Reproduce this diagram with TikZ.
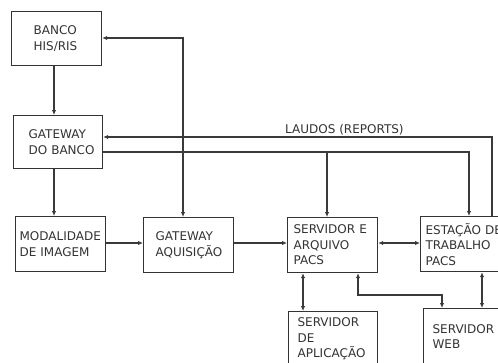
\documentclass[tikz,border=0pt]{standalone}
\usepackage{fontspec}
\setmainfont{DejaVu Sans}
\usetikzlibrary{arrows.meta}
\definecolor{ink}{HTML}{333333}
\definecolor{wire}{HTML}{3A3A3A}
\tikzset{
  box/.style={draw=ink, line width=1.2pt, rectangle, anchor=north west, align=left,
    inner ysep=0pt, text=ink, font=\fontsize{12}{15.5}\selectfont},
  wirel/.style={draw=wire, line width=1.1pt},
  arr/.style={wirel, -{Latex[length=5pt,width=4.5pt]}},
  arrb/.style={wirel, {Latex[length=5pt,width=4.5pt]}-{Latex[length=5pt,width=4.5pt]}},
  lbl/.style={text=ink, font=\fontsize{12}{14}\selectfont, inner sep=0pt}
}
\begin{document}
\begin{tikzpicture}[x=1pt,y=-1pt]
\useasboundingbox (0,0) rectangle (498,362);
\clip (0,0) rectangle (498,362);
\fill[white] (0,0) rectangle (498,362);
% boxes
\node[box, minimum width=90pt, minimum height=54pt, inner xsep=22pt, text width=46pt] (banco) at (11,11) {BANCO\\HIS/RIS};
\node[box, minimum width=89pt, minimum height=53pt, inner xsep=15pt, text width=59pt] (gwb) at (13,115) {GATEWAY\\DO~BANCO};
\node[box, minimum width=90pt, minimum height=55pt, inner xsep=4pt, text width=82pt] (mod) at (15,216) {MODALIDADE\\DE~IMAGEM};
\node[box, minimum width=90pt, minimum height=55pt, inner xsep=12pt, text width=66pt] (gwa) at (143,217) {GATEWAY\\AQUISIÇÃO};
\node[box, minimum width=90pt, minimum height=55pt, inner xsep=6pt, text width=78pt] (srv) at (287,217) {SERVIDOR~E\\ARQUIVO\\PACS};
\node[box, minimum width=100pt, minimum height=55pt, inner xsep=5pt, text width=90pt] (est) at (420,216) {ESTAÇÃO~DE\\TRABALHO\\PACS};
\node[box, minimum width=89pt, minimum height=55pt, inner xsep=9pt, text width=71pt] (app) at (288,311) {SERVIDOR\\DE\\APLICAÇÃO};
\node[box, minimum width=95pt, minimum height=56pt, inner xsep=9pt, text width=77pt] (web) at (423,308) {SERVIDOR\\WEB};
% label
\node[lbl, anchor=base west] (laudos) at (285,133) {LAUDOS (REPORTS)};
% connectors
\draw[arr] (54,0 |- banco.south) -- (54,0 |- gwb.north);
\draw[arrb] (banco.east |- 0,38) -| (183,0 |- gwa.north);
\draw[arr] (492,0 |- est.north) |- (gwb.east |- 0,137);
\draw[arr] (gwb.east |- 0,152) -| (469,0 |- est.north);
\draw[arr] (327,152) -- (327,0 |- srv.north);
\draw[arr] (54,0 |- gwb.south) -- (54,0 |- mod.north);
\draw[arr] (mod.east |- 0,243) -- (gwa.west |- 0,243);
\draw[arr] (gwa.east |- 0,243) -- (srv.west |- 0,243);
\draw[arrb] (srv.east |- 0,243) -- (est.west |- 0,243);
\draw[arrb] (303,0 |- srv.south) -- (303,0 |- app.north);
\draw[arrb] (358,0 |- srv.south) |- (442,295) -- (442,0 |- web.north);
\draw[arrb] (482,0 |- est.south) -- (482,0 |- web.north);
\end{tikzpicture}
\end{document}
